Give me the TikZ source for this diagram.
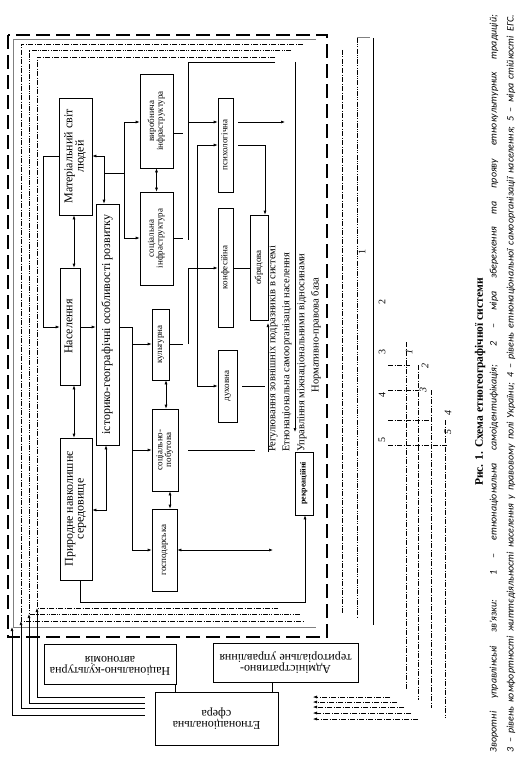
\documentclass[tikz,border=0pt]{standalone}
\usepackage{fontspec}
\setmainfont{Liberation Serif}
\newfontfamily\legfont{Carlito}
\usetikzlibrary{arrows.meta}
\newcommand{\rtx}[1]{\rotatebox{90}{\begin{tabular}{@{}c@{}}#1\end{tabular}}}
\newcommand{\udx}[1]{\rotatebox{180}{\begin{tabular}{@{}c@{}}#1\end{tabular}}}
\renewcommand{\arraystretch}{0.8}
\begin{document}
\begin{tikzpicture}[x=1pt,y=-1pt,
  bx/.style={draw, line width=0.6pt, inner sep=0pt},
  ln/.style={line width=0.6pt},
  ar/.style={ln, -{Latex[length=4pt,width=3pt]}},
  dar/.style={ln, {Latex[length=4pt,width=3pt]}-{Latex[length=4pt,width=3pt]}},
  big/.style={font=\fontsize{12}{13.5}\selectfont},
  sm/.style={font=\fontsize{9}{10}\selectfont},
  lab/.style={font=\fontsize{10.5}{12}\selectfont, inner sep=0pt, rotate=90},
  num/.style={font=\fontsize{10}{11}\selectfont, inner sep=0.5pt, rotate=90},
  inum/.style={font=\itshape\fontsize{10}{11}\selectfont, inner sep=0.5pt, rotate=90},
  thickdash/.style={line width=2.4pt, dash pattern=on 14pt off 6pt},
  dd/.style={line width=0.5pt, dash pattern=on 5pt off 1.5pt on 1pt off 1.5pt},
  ddd/.style={line width=0.5pt, dash pattern=on 5pt off 1.2pt on 1pt off 1.2pt on 1pt off 1.2pt},
]
\useasboundingbox (0,0) rectangle (526,760);

% ---------- frames ----------
\draw[thickdash] (8,35) rectangle (327,637);
\draw[gray, line width=0.9pt] (316,39) -- (13,39) -- (13,627) -- (316,627);
\draw[dd] (303,44) -- (21,44) -- (21,621) -- (305,621);
\draw[ddd] (291,50) -- (29,50) -- (29,614) -- (300,614);
\draw[dd] (275,57) -- (37,57) -- (37,608) -- (278,608);

% ---------- boxes ----------
\node[bx, big, minimum width=33pt, minimum height=117pt] (mat) at (75.5,156.5) {\rtx{Матеріальний світ\\людей}};
\node[bx, big, minimum width=20pt, minimum height=117pt] (nas) at (70,326.5) {\rtx{Населення}};
\node[bx, big, minimum width=32pt, minimum height=142pt] (pryr) at (76,509) {\rtx{Природне навколишнє\\середовище}};
\node[bx, big, minimum width=23pt, minimum height=241pt] (hist) at (107.5,324.5) {\rtx{історико-географічні особливості розвитку}};
\node[bx, sm, minimum width=33pt, minimum height=94pt] (vyr) at (156.5,121) {\rtx{виробнича\\інфраструктура}};
\node[bx, sm, minimum width=33pt, minimum height=93pt] (soc) at (156.5,238.5) {\rtx{соціальна\\інфраструктура}};
\node[bx, sm, minimum width=17pt, minimum height=71pt] (kult) at (160.5,344.5) {\rtx{культурна}};
\node[bx, sm, minimum width=26pt, minimum height=82pt] (sp) at (165,450) {\rtx{соціально-\\побутова}};
\node[bx, sm, minimum width=25pt, minimum height=82pt] (gosp) at (164.5,550) {\rtx{господарська}};
\node[bx, sm, minimum width=15pt, minimum height=94pt] (psy) at (225.5,145) {\rtx{психологічна}};
\node[bx, sm, minimum width=15pt, minimum height=119pt] (konf) at (225.5,267.5) {\rtx{конфесійна}};
\node[bx, sm, minimum width=18pt, minimum height=105pt] (obr) at (259,267.5) {\rtx{обрядова}};
\node[bx, sm, minimum width=19pt, minimum height=72pt] (duh) at (227.5,386) {\rtx{духовна}};
\node[bx, sm, font=\bfseries\fontsize{8}{9}\selectfont, minimum width=18pt, minimum height=63pt] (rekr) at (304,483.5) {\rtx{рекреаційні}};

\node[bx, big, minimum width=123pt, minimum height=53pt] (etn) at (216.5,718.5) {\udx{Етнонаціональна\\сфера}};
\node[bx, big, minimum width=132pt, minimum height=40pt] (nka) at (110,664) {\udx{Національно-культурна\\автономія}};
\node[bx, big, minimum width=145pt, minimum height=39pt] (adm) at (285.5,662.5) {\udx{Адміністративно-\\територіальне управління}};

% ---------- texts ----------
\node[lab, anchor=west] (t1) at (273,452) {Регулювання зовнішніх подразників в системі};
\node[lab, anchor=west] (t2) at (287,452) {Етнонаціональна самоорганізація населення};
\node[lab, anchor=west] (t3) at (302,452) {Управління міжнаціональними відносинами};
\node[lab] (t4) at (316,335) {Нормативно-правова база};

% ---------- connectors ----------
\draw[dar] (mat.east |- 0,156) -- (104,156) -- (hist.north -| 104,0);
\draw[ln] (104,173) -- (124,173);
\draw[ln] (124,122) -- (124,238);
\draw[ar] (124,122) -- (vyr.west |- 0,122);
\draw[ar] (124,238) -- (soc.west |- 0,238);
\draw[ar] (mat.west |- 0,156) -- (43,156) -- (43,327) -- (nas.west |- 0,327);
\draw[dar] (mat.south -| 74,0) -- (nas.north -| 74,0);
\draw[dar] (nas.south -| 74,0) -- (pryr.north -| 74,0);
\draw[ar] (nas.east |- 0,327) -- (hist.west |- 0,327);
\draw[dar] (pryr.east |- 0,510) -- (106,510) -- (hist.south -| 106,0);
\draw[ln] (hist.east |- 0,327) -- (132,327) -- (132,550);
\draw[ar] (132,344) -- (kult.west |- 0,344);
\draw[ar] (132,450) -- (sp.west |- 0,450);
\draw[ar] (132,550) -- (gosp.west |- 0,550);
\draw[dar] (vyr.south) -- (soc.north);
\draw[dar] (kult.south -| 166,0) -- (sp.north -| 166,0);
\draw[dar] (sp.south -| 170,0) -- (gosp.north -| 170,0);
\draw[dar] (gosp.east |- 0,550) -- (273,550);
\draw[ln] (188,450) -- (255,450);
\draw[ln] (kult.east |- 0,344) -- (183,344);
\draw[ln] (188,344) -- (188,268);
\draw[ar] (188,268) -- (konf.west |- 0,268);
\draw[ln] (275,62) -- (188,62) -- (188,240);
\draw[ar] (188,122) -- (psy.west |- 0,122);
\draw[ln] (vyr.east |- 0,133) -- (183,133);
\draw[ln] (soc.east |- 0,238) -- (183,238);
\draw[ln] (197,145) -- (197,386);
\draw[ar] (197,145) -- (psy.west |- 0,145);
\draw[ar] (197,386) -- (duh.west |- 0,386);
\draw[ar] ([xshift=5pt]psy.east |- 0,122) -- (285,122);
\draw[ar] ([xshift=5pt]psy.east |- 0,145) -- (265,145) -- (obr.north -| 265,0);
\draw[ln] (konf.east |- 0,268) -- (obr.west |- 0,268);
\draw[ln] ([xshift=5pt]duh.east |- 0,386) -- (265,386);
\draw[ar] (268,452) -- (268,323);
\draw[ar] (295,62) -- (295,432);
\draw[ar] (pryr.south -| 80,0) -- (80,602) -- (305,602) -- (rekr.south -| 305,0);

\draw[ln] (nka.south -| 175,0) -- (etn.north -| 175,0);
\draw[ln] (adm.south -| 272,0) -- (etn.north -| 272,0);

\draw[ar] ([xshift=-10pt]etn.west |- 0,715) -- (12,715) -- (12,627);
\draw[ar] ([xshift=-10pt]etn.west |- 0,708) -- (21,708) -- (21,621);
\draw[ar] ([xshift=-10pt]etn.west |- 0,703) -- (29,703) -- (29,614);
\draw[ar] ([xshift=-10pt]etn.west |- 0,697) -- (37,697) -- (37,608);

% ---------- right feedback lines ----------
\draw[dd] (342,50) -- (342,613);
\draw[ddd] (357,38) -- (357,618);
\draw[ln] (373,38) -- (373,625);
\draw[gray, line width=1pt] (357,38) -- (370,38);
\node[num, fill=white] (n1) at (362,252) {1};
\node[num] (n2) at (382,302) {2};
\node[num] (n3) at (382,352) {3};
\node[num] (n4) at (382,395) {4};
\node[num] (n5) at (382,440) {5};

\draw[dd] (388,365) -- (410,365);
\draw[dd] (388,390) -- (418,390);
\draw[dd] (388,420) -- (432,420);
\draw[dd] (388,445) -- (447,445);
\draw[dd] (406,342) -- (406,690);
\draw[dd] (418,365) -- (418,700);
\draw[dd] (431,390) -- (431,708);
\draw[dd] (445,420) -- (445,718);
\node[inum] (i1) at (409,352) {1};
\node[inum] (i2) at (425,366) {2};
\node[inum] (i3) at (423,390) {3};
\node[inum] (i4) at (448,413) {4};
\node[inum] (i5) at (448,432) {5};

\draw[dd, -{Latex[length=4pt,width=3pt]}] (390,697) -- (313,697);
\draw[dd, -{Latex[length=4pt,width=3pt]}] (397,702) -- (313,702);
\draw[dd, -{Latex[length=4pt,width=3pt]}] (404,707) -- (313,707);
\draw[dd, -{Latex[length=4pt,width=3pt]}] (411,713) -- (313,713);
\draw[dd, -{Latex[length=4pt,width=3pt]}] (418,719) -- (313,719);

% ---------- caption & legend ----------
\node[rotate=90, font=\bfseries\fontsize{11.5}{13}\selectfont] (cap) at (480,382) {Рис. 1. Схема етногеографічної системи};
\node[rotate=90, inner sep=0pt] (leg1) at (494,383.5) {\legfont\itshape\fontsize{10}{12}\selectfont\makebox[737pt][s]{Зворотні управлінські зв’язки: 1 – етнонаціональна самоідентифікація; 2 – міра збереження та прояву етнокультурних традицій;}};
\node[rotate=90, inner sep=0pt] (leg2) at (511,383.5) {\legfont\itshape\fontsize{10}{12}\selectfont\makebox[737pt][s]{3 – рівень комфортності життєдіяльності населення у правовому полі України; 4 – рівень етнонаціональної самоорганізації населення; 5 – міра стійкості ЕГС.}};
\end{tikzpicture}
\end{document}
